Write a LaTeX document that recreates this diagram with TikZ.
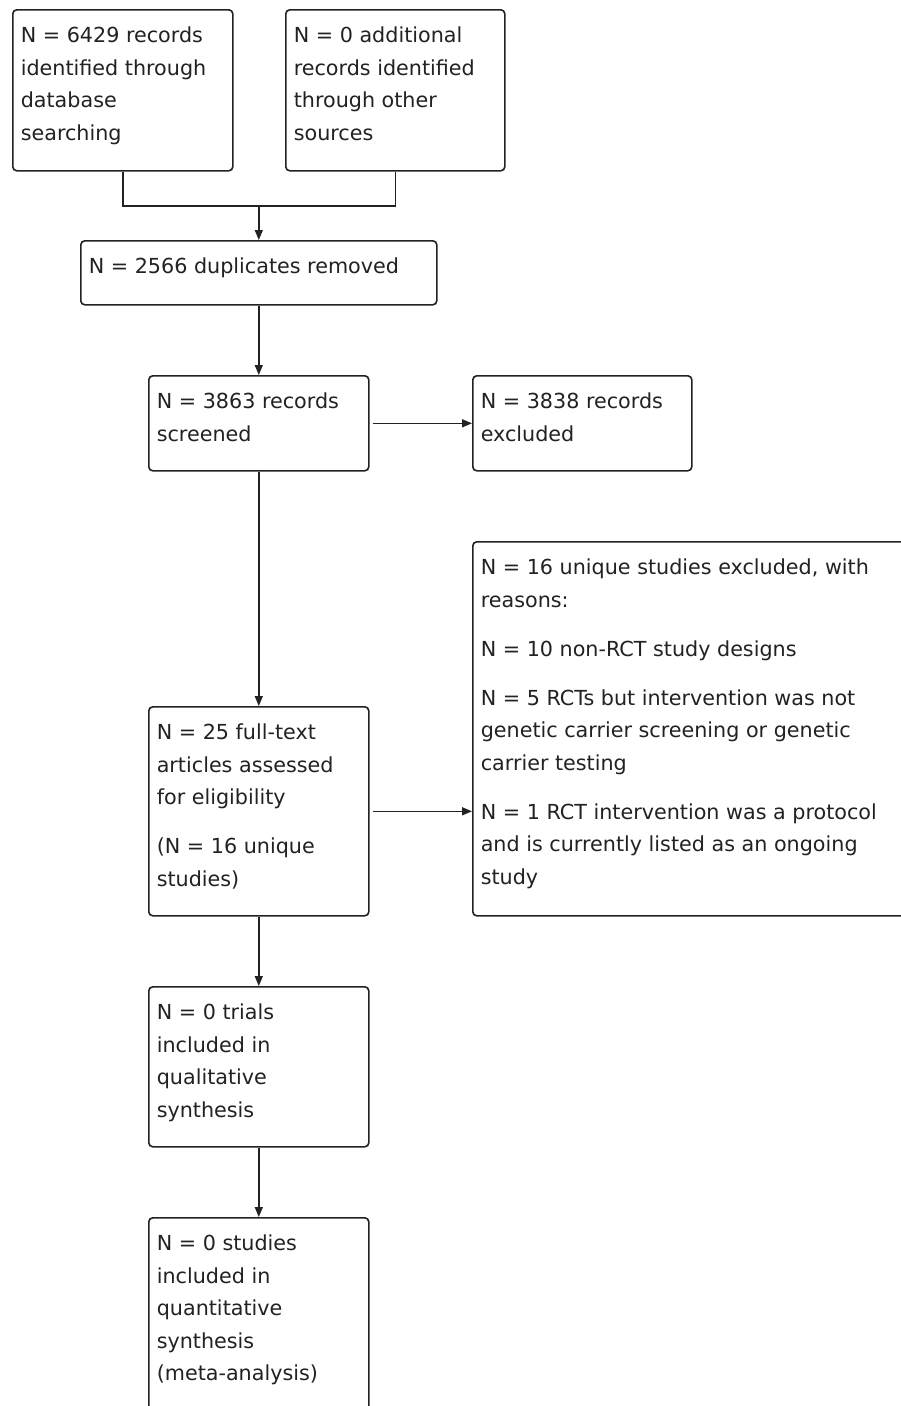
\documentclass[tikz,border=0pt]{standalone}
\usepackage{fontspec}
\setmainfont{DejaVu Sans}
\usetikzlibrary{arrows.meta}
\definecolor{ink}{HTML}{222222}
\newcommand{\bt}[3]{\parbox[t][#2][t]{#1}{\raggedright\rule{0pt}{33pt}#3}}
\newcommand{\gap}{\\[16.5pt]}
\begin{document}
\begin{tikzpicture}[x=1pt,y=-1pt,
  flowbox/.style={draw=ink, line width=1.6pt, rounded corners=4pt, anchor=north west,
    inner xsep=8pt, inner ysep=0pt, text=ink,
    font=\fontsize{20.7pt}{32.5pt}\selectfont},
  conn/.style={draw=ink, line width=1.5pt},
  arr/.style={conn, -{Triangle[length=10pt,width=8pt]}}]
\clip (0,0) rectangle (901,1406);
\fill[white] (0,0) rectangle (901,1406);

\node[flowbox] (A) at (12,9) {\bt{204pt}{161pt}{N = 6429 records\\identified through\\database\\searching}};
\node[flowbox] (B) at (285,9) {\bt{203pt}{161pt}{N = 0 additional\\records identified\\through other\\sources}};
\node[flowbox] (C) at (80,240) {\bt{340pt}{64pt}{N = 2566 duplicates removed}};
\node[flowbox] (D) at (148,375) {\bt{204pt}{95pt}{N = 3863 records\\screened}};
\node[flowbox] (E) at (472,375) {\bt{203pt}{95pt}{N = 3838 records\\excluded}};
\node[flowbox] (F) at (148,706) {\bt{204pt}{209pt}{N = 25 full-text\\articles assessed\\for eligibility\gap(N = 16 unique\\studies)}};
\node[flowbox] (G) at (472,541) {\bt{434pt}{374pt}{N = 16 unique studies excluded, with\\reasons:\gap N = 10 non-RCT study designs\gap N = 5 RCTs but intervention was not\\genetic carrier screening or genetic\\carrier testing\gap N = 1 RCT intervention was a protocol\\and is currently listed as an ongoing\\study}};
\node[flowbox] (H) at (148,986) {\bt{204pt}{160pt}{N = 0 trials\\included in\\qualitative\\synthesis}};
\node[flowbox] (I) at (148,1217) {\bt{204pt}{220pt}{N = 0 studies\\included in\\quantitative\\synthesis\\(meta-analysis)}};

\coordinate (J) at (C.north |- 0,206);
\draw[conn] (A.south) |- (J);
\draw[conn] (B.south) |- (J);
\draw[arr] (J) -- (C.north);
\draw[arr] (C.south) -- (D.north);
\draw[arr] ([xshift=3pt]D.east) -- (E.west |- D.east);
\draw[arr] (D.south) -- (F.north);
\draw[arr] ([xshift=3pt]F.east) -- (G.west |- F.east);
\draw[arr] (F.south) -- (H.north);
\draw[arr] (H.south) -- (I.north);
\end{tikzpicture}
\end{document}
